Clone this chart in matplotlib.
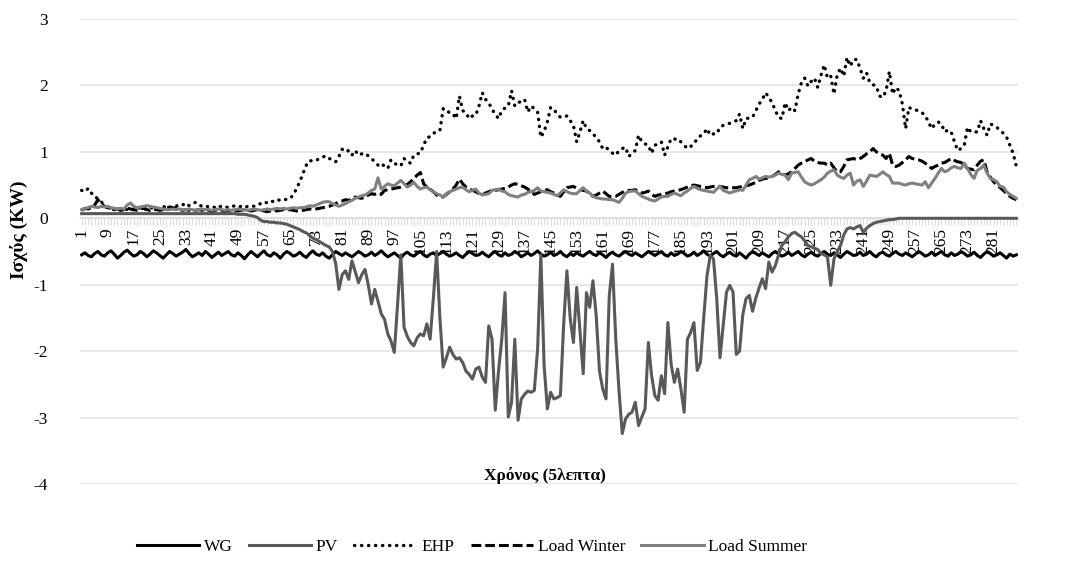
import matplotlib
matplotlib.use("Agg")
import matplotlib.pyplot as plt

plt.rcParams['font.family'] = ['Liberation Serif', 'DejaVu Serif']
plt.rcParams['axes.unicode_minus'] = False

# 5-minute steps over one day
steps = list(range(1, 289))
tick_steps = list(range(1, 289, 8))

wg = [-0.55, -0.52, -0.56, -0.58, -0.53, -0.5, -0.55, -0.57, -0.52, -0.49, -0.54, -0.6, -0.56, -0.51, -0.48, -0.53,
      -0.57, -0.55, -0.5, -0.53, -0.58, -0.54, -0.49, -0.52, -0.56, -0.6, -0.55, -0.5, -0.53, -0.57, -0.54, -0.51,
      -0.47, -0.53, -0.58, -0.55, -0.52, -0.56, -0.5, -0.54, -0.59, -0.55, -0.51, -0.56, -0.53, -0.5, -0.55, -0.57,
      -0.52, -0.56, -0.61, -0.55, -0.5, -0.54, -0.58, -0.53, -0.49, -0.55, -0.57, -0.52, -0.55, -0.6, -0.54, -0.5,
      -0.53, -0.57, -0.55, -0.51, -0.56, -0.59, -0.53, -0.49, -0.54, -0.56, -0.52, -0.57, -0.6, -0.55, -0.5, -0.53,
      -0.56, -0.52, -0.55, -0.58, -0.54, -0.5, -0.53, -0.57, -0.55, -0.51, -0.56, -0.53, -0.49, -0.54, -0.58, -0.55,
      -0.52, -0.56, -0.6, -0.54, -0.51, -0.55, -0.57, -0.53, -0.5, -0.55, -0.58, -0.54, -0.52, -0.56, -0.53, -0.5,
      -0.54, -0.57, -0.55, -0.52, -0.56, -0.59, -0.54, -0.5, -0.53, -0.56, -0.55, -0.51, -0.55, -0.58, -0.53, -0.5,
      -0.55, -0.57, -0.52, -0.56, -0.54, -0.5, -0.53, -0.58, -0.55, -0.52, -0.56, -0.53, -0.49, -0.54, -0.57, -0.55,
      -0.51, -0.56, -0.54, -0.5, -0.55, -0.58, -0.53, -0.56, -0.52, -0.55, -0.57, -0.53, -0.5, -0.54, -0.56, -0.52,
      -0.55, -0.59, -0.54, -0.51, -0.55, -0.57, -0.53, -0.5, -0.54, -0.56, -0.52, -0.55, -0.58, -0.54, -0.5, -0.53,
      -0.56, -0.53, -0.5, -0.55, -0.57, -0.52, -0.56, -0.54, -0.5, -0.53, -0.57, -0.55, -0.51, -0.56, -0.53, -0.49,
      -0.54, -0.57, -0.53, -0.5, -0.55, -0.58, -0.54, -0.51, -0.55, -0.57, -0.52, -0.56, -0.6, -0.54, -0.5, -0.53,
      -0.56, -0.52, -0.55, -0.58, -0.53, -0.5, -0.54, -0.57, -0.55, -0.51, -0.56, -0.53, -0.5, -0.55, -0.58, -0.54,
      -0.51, -0.55, -0.57, -0.53, -0.5, -0.54, -0.56, -0.52, -0.55, -0.59, -0.54, -0.5, -0.53, -0.56, -0.55, -0.51,
      -0.56, -0.54, -0.5, -0.55, -0.58, -0.53, -0.51, -0.55, -0.57, -0.53, -0.5, -0.54, -0.56, -0.52, -0.55, -0.58,
      -0.54, -0.5, -0.53, -0.57, -0.55, -0.51, -0.56, -0.53, -0.5, -0.55, -0.57, -0.52, -0.56, -0.54, -0.5, -0.53,
      -0.57, -0.55, -0.51, -0.56, -0.59, -0.54, -0.5, -0.53, -0.57, -0.55, -0.52, -0.56, -0.6, -0.54, -0.57, -0.55]

pv = [0.07, 0.07, 0.07, 0.07, 0.07, 0.07, 0.07, 0.07, 0.07, 0.07, 0.07, 0.07, 0.07, 0.07, 0.07, 0.07,
      0.07, 0.07, 0.07, 0.07, 0.07, 0.07, 0.07, 0.07, 0.07, 0.07, 0.07, 0.07, 0.07, 0.07, 0.07, 0.07,
      0.07, 0.07, 0.07, 0.07, 0.07, 0.07, 0.07, 0.07, 0.07, 0.07, 0.07, 0.07, 0.07, 0.07, 0.07, 0.07,
      0.06, 0.06, 0.06, 0.05, 0.04, 0.03, 0.01, -0.03, -0.05, -0.05, -0.06, -0.06, -0.07, -0.07, -0.08, -0.09,
      -0.11, -0.13, -0.15, -0.17, -0.2, -0.22, -0.26, -0.3, -0.32, -0.35, -0.38, -0.41, -0.43, -0.5, -0.68, -1.07,
      -0.85, -0.79, -0.92, -0.64, -0.8, -0.97, -0.85, -0.77, -1.0, -1.29, -1.07, -1.25, -1.44, -1.52, -1.74, -1.85,
      -2.02, -1.3, -0.55, -1.64, -1.78, -1.87, -1.92, -1.8, -1.74, -1.77, -1.59, -1.82, -1.2, -0.5, -1.5, -2.24,
      -2.1, -1.94, -2.05, -2.12, -2.1, -2.17, -2.3, -2.35, -2.42, -2.27, -2.24, -2.39, -2.47, -1.62, -1.82, -2.89,
      -2.3, -1.82, -1.12, -2.99, -2.77, -1.82, -3.04, -2.72, -2.65, -2.6, -2.62, -2.59, -1.97, -0.55, -2.22, -2.87,
      -2.62, -2.72, -2.7, -2.67, -1.6, -0.79, -1.5, -1.87, -1.04, -1.7, -2.34, -1.12, -1.34, -0.94, -1.47, -2.3,
      -2.57, -2.72, -1.17, -0.69, -1.82, -2.6, -3.24, -3.02, -2.95, -2.92, -2.77, -3.12, -2.99, -2.87, -1.87, -2.37,
      -2.67, -2.74, -2.37, -2.64, -1.57, -2.2, -2.47, -2.27, -2.57, -2.92, -1.82, -1.72, -1.57, -2.29, -2.17, -1.5,
      -0.87, -0.56, -0.61, -1.21, -2.1, -1.6, -1.11, -1.01, -1.11, -2.05, -2.0, -1.45, -1.21, -1.16, -1.4, -1.2,
      -1.05, -0.91, -1.06, -0.66, -0.81, -0.71, -0.55, -0.41, -0.35, -0.28, -0.23, -0.21, -0.25, -0.28, -0.34, -0.41,
      -0.43, -0.45, -0.47, -0.53, -0.55, -0.58, -1.01, -0.61, -0.5, -0.41, -0.25, -0.16, -0.14, -0.16, -0.13, -0.11,
      -0.21, -0.15, -0.11, -0.08, -0.06, -0.05, -0.04, -0.03, -0.02, -0.02, -0.01, 0.0, 0.0, 0.0, 0.0, 0.0,
      0.0, 0.0, 0.0, 0.0, 0.0, 0.0, 0.0, 0.0, 0.0, 0.0, 0.0, 0.0, 0.0, 0.0, 0.0, 0.0,
      0.0, 0.0, 0.0, 0.0, 0.0, 0.0, 0.0, 0.0, 0.0, 0.0, 0.0, 0.0, 0.0, 0.0, 0.0, 0.0]

ehp = [0.42, 0.40, 0.45, 0.38, 0.32, 0.30, 0.25, 0.20, 0.16, 0.14, 0.13, 0.15, 0.12, 0.14, 0.13, 0.15,
       0.12, 0.14, 0.16, 0.13, 0.15, 0.14, 0.17, 0.15, 0.14, 0.18, 0.16, 0.15, 0.19, 0.18, 0.21, 0.20,
       0.23, 0.19, 0.22, 0.24, 0.20, 0.18, 0.19, 0.17, 0.18, 0.16, 0.19, 0.17, 0.18, 0.16, 0.17, 0.19,
       0.17, 0.18, 0.16, 0.18, 0.19, 0.18, 0.21, 0.22, 0.25, 0.23, 0.26, 0.25, 0.28, 0.27, 0.29, 0.28,
       0.30, 0.35, 0.45, 0.55, 0.68, 0.80, 0.87, 0.86, 0.87, 0.90, 0.92, 0.94, 0.90, 0.88, 0.85, 0.93,
       1.04, 1.00, 1.02, 0.95, 1.02, 0.95, 0.97, 0.98, 0.94, 0.90, 0.85, 0.80, 0.83, 0.78, 0.75, 0.88,
       0.83, 0.80, 0.79, 0.90, 0.85, 0.83, 0.95, 0.97, 0.98, 1.10, 1.21, 1.23, 1.28, 1.30, 1.32, 1.65,
       1.64, 1.58, 1.57, 1.50, 1.84, 1.62, 1.59, 1.50, 1.54, 1.55, 1.69, 1.89, 1.79, 1.74, 1.64, 1.57,
       1.50, 1.62, 1.66, 1.69, 1.92, 1.69, 1.74, 1.76, 1.79, 1.60, 1.69, 1.65, 1.60, 1.22, 1.31, 1.45,
       1.67, 1.64, 1.57, 1.52, 1.53, 1.54, 1.47, 1.40, 1.15, 1.30, 1.47, 1.35, 1.32, 1.27, 1.22, 1.15,
       1.05, 1.07, 1.02, 0.98, 0.95, 1.02, 1.05, 1.07, 0.93, 0.98, 1.02, 1.25, 1.15, 1.12, 1.10, 0.98,
       1.10, 1.12, 1.15, 0.95, 1.08, 1.20, 1.19, 1.20, 1.15, 1.10, 1.05, 1.08, 1.12, 1.20, 1.24, 1.27,
       1.35, 1.25, 1.27, 1.27, 1.37, 1.40, 1.42, 1.43, 1.45, 1.47, 1.57, 1.35, 1.50, 1.51, 1.52, 1.62,
       1.72, 1.79, 1.89, 1.82, 1.74, 1.62, 1.52, 1.50, 1.74, 1.62, 1.67, 1.62, 1.87, 2.04, 2.11, 1.99,
       2.06, 2.11, 1.97, 2.15, 2.31, 2.11, 2.14, 1.87, 2.16, 2.26, 2.14, 2.42, 2.29, 2.39, 2.39, 2.26,
       2.11, 2.19, 2.04, 2.01, 1.99, 1.84, 1.82, 1.92, 2.21, 1.87, 1.97, 1.92, 1.72, 1.35, 1.67, 1.64,
       1.63, 1.62, 1.59, 1.55, 1.45, 1.35, 1.42, 1.45, 1.42, 1.30, 1.33, 1.30, 1.15, 1.02, 1.05, 1.10,
       1.37, 1.30, 1.30, 1.30, 1.47, 1.35, 1.25, 1.42, 1.40, 1.37, 1.32, 1.28, 1.22, 1.10, 0.98, 0.78]

load_winter = [0.12, 0.15, 0.14, 0.16, 0.20, 0.28, 0.22, 0.18, 0.16, 0.15, 0.13, 0.14, 0.12, 0.13, 0.15, 0.14,
               0.13, 0.12, 0.14, 0.15, 0.13, 0.12, 0.14, 0.13, 0.12, 0.13, 0.15, 0.17, 0.16, 0.15, 0.13, 0.12,
               0.13, 0.12, 0.11, 0.12, 0.13, 0.12, 0.13, 0.12, 0.11, 0.12, 0.13, 0.12, 0.11, 0.12, 0.11, 0.12,
               0.11, 0.12, 0.13, 0.12, 0.11, 0.12, 0.13, 0.12, 0.11, 0.10, 0.11, 0.12, 0.11, 0.12, 0.13, 0.12,
               0.13, 0.12, 0.11, 0.12, 0.12, 0.13, 0.14, 0.13, 0.14, 0.15, 0.16, 0.17, 0.18, 0.20, 0.22, 0.25,
               0.26, 0.28, 0.27, 0.29, 0.32, 0.31, 0.30, 0.33, 0.35, 0.37, 0.36, 0.38, 0.36, 0.42, 0.43, 0.44,
               0.45, 0.46, 0.47, 0.49, 0.51, 0.55, 0.60, 0.65, 0.69, 0.52, 0.47, 0.44, 0.40, 0.35, 0.33, 0.32,
               0.36, 0.40, 0.44, 0.50, 0.59, 0.52, 0.47, 0.44, 0.42, 0.40, 0.37, 0.35, 0.38, 0.40, 0.42, 0.42,
               0.43, 0.44, 0.45, 0.47, 0.50, 0.52, 0.51, 0.49, 0.47, 0.44, 0.40, 0.36, 0.38, 0.40, 0.42, 0.43,
               0.40, 0.38, 0.35, 0.33, 0.40, 0.46, 0.47, 0.48, 0.45, 0.43, 0.42, 0.41, 0.37, 0.33, 0.35, 0.38,
               0.41, 0.37, 0.33, 0.33, 0.33, 0.36, 0.39, 0.41, 0.42, 0.42, 0.43, 0.40, 0.38, 0.39, 0.41, 0.36,
               0.33, 0.35, 0.36, 0.37, 0.38, 0.40, 0.41, 0.42, 0.43, 0.45, 0.47, 0.49, 0.50, 0.49, 0.48, 0.47,
               0.46, 0.47, 0.48, 0.48, 0.48, 0.47, 0.46, 0.46, 0.46, 0.46, 0.47, 0.48, 0.49, 0.50, 0.52, 0.54,
               0.57, 0.59, 0.60, 0.61, 0.63, 0.66, 0.70, 0.67, 0.65, 0.67, 0.70, 0.75, 0.80, 0.83, 0.85, 0.88,
               0.90, 0.86, 0.84, 0.83, 0.83, 0.80, 0.83, 0.76, 0.70, 0.70, 0.78, 0.88, 0.89, 0.90, 0.88, 0.90,
               0.93, 0.97, 1.00, 1.05, 1.00, 0.97, 0.95, 0.90, 0.98, 0.80, 0.78, 0.80, 0.84, 0.88, 0.93, 0.90,
               0.89, 0.88, 0.86, 0.83, 0.79, 0.75, 0.78, 0.80, 0.83, 0.84, 0.87, 0.90, 0.87, 0.85, 0.84, 0.80,
               0.75, 0.74, 0.73, 0.80, 0.86, 0.88, 0.70, 0.62, 0.55, 0.50, 0.46, 0.42, 0.37, 0.33, 0.30, 0.28]

load_summer = [0.13, 0.15, 0.16, 0.18, 0.17, 0.16, 0.18, 0.17, 0.18, 0.16, 0.15, 0.14, 0.15, 0.14, 0.20, 0.23,
               0.18, 0.16, 0.17, 0.18, 0.19, 0.18, 0.17, 0.16, 0.15, 0.14, 0.13, 0.13, 0.14, 0.13, 0.14, 0.13,
               0.13, 0.14, 0.13, 0.12, 0.13, 0.14, 0.13, 0.13, 0.12, 0.13, 0.14, 0.13, 0.12, 0.13, 0.12, 0.13,
               0.14, 0.13, 0.13, 0.12, 0.13, 0.14, 0.13, 0.12, 0.13, 0.14, 0.13, 0.14, 0.15, 0.14, 0.15, 0.14,
               0.15, 0.16, 0.15, 0.16, 0.16, 0.17, 0.19, 0.18, 0.20, 0.22, 0.24, 0.25, 0.25, 0.22, 0.20, 0.18,
               0.20, 0.22, 0.25, 0.27, 0.30, 0.32, 0.34, 0.35, 0.38, 0.42, 0.44, 0.61, 0.44, 0.48, 0.52, 0.50,
               0.49, 0.53, 0.57, 0.52, 0.47, 0.50, 0.54, 0.48, 0.44, 0.46, 0.47, 0.43, 0.40, 0.37, 0.35, 0.32,
               0.37, 0.40, 0.42, 0.44, 0.46, 0.47, 0.43, 0.40, 0.42, 0.44, 0.38, 0.35, 0.36, 0.37, 0.42, 0.43,
               0.44, 0.41, 0.40, 0.36, 0.34, 0.33, 0.32, 0.35, 0.36, 0.39, 0.40, 0.42, 0.46, 0.41, 0.40, 0.39,
               0.38, 0.36, 0.34, 0.38, 0.43, 0.40, 0.38, 0.37, 0.37, 0.42, 0.46, 0.41, 0.38, 0.33, 0.31, 0.30,
               0.29, 0.29, 0.28, 0.28, 0.26, 0.24, 0.30, 0.38, 0.40, 0.41, 0.41, 0.37, 0.33, 0.31, 0.29, 0.27,
               0.26, 0.29, 0.32, 0.33, 0.33, 0.36, 0.38, 0.36, 0.34, 0.38, 0.41, 0.45, 0.48, 0.45, 0.43, 0.42,
               0.41, 0.40, 0.39, 0.44, 0.48, 0.42, 0.40, 0.38, 0.40, 0.41, 0.43, 0.42, 0.50, 0.58, 0.60, 0.63,
               0.59, 0.61, 0.63, 0.62, 0.63, 0.65, 0.68, 0.66, 0.65, 0.58, 0.68, 0.69, 0.70, 0.62, 0.55, 0.52,
               0.50, 0.52, 0.55, 0.58, 0.62, 0.68, 0.71, 0.73, 0.65, 0.62, 0.60, 0.65, 0.68, 0.50, 0.56, 0.58,
               0.48, 0.56, 0.65, 0.64, 0.63, 0.66, 0.70, 0.66, 0.63, 0.53, 0.53, 0.53, 0.51, 0.50, 0.52, 0.53,
               0.52, 0.51, 0.50, 0.55, 0.46, 0.53, 0.60, 0.68, 0.75, 0.70, 0.72, 0.76, 0.78, 0.76, 0.75, 0.83,
               0.75, 0.66, 0.60, 0.72, 0.75, 0.80, 0.68, 0.60, 0.58, 0.55, 0.48, 0.47, 0.40, 0.36, 0.33, 0.30]

W, H = 1069, 584
fig = plt.figure(figsize=(W / 100, H / 100), dpi=100)
ax = fig.add_axes([80 / W, 1 - 484 / H, (1018 - 80) / W, (484 - 19) / H])

lw = 2.2
ax.plot(steps, wg, color='black', lw=lw, label='WG', zorder=3)
ax.plot(steps, pv, color='#595959', lw=lw, label='PV', zorder=3)
ax.plot(steps, ehp, color='black', lw=2.4, ls=(0, (0.1, 2.0)), dash_capstyle='round', label='EHP', zorder=3)
ax.plot(steps, load_winter, color='black', lw=lw, ls=(0, (3.2, 1.3)), label='Load Winter', zorder=3)
ax.plot(steps, load_summer, color='#808080', lw=lw, label='Load Summer', zorder=3)

ax.set_xlim(0.5, 288.5)
ax.set_ylim(-4, 3)
ax.set_yticks(range(-4, 4))
ax.grid(axis='y', color='#dde1e6', lw=1.1)
ax.set_axisbelow(True)

for s in ['top', 'right', 'left']:
    ax.spines[s].set_visible(False)
ax.spines['bottom'].set_position(('data', 0))
ax.spines['bottom'].set_color('#d9dde3')
ax.spines['bottom'].set_linewidth(1.1)

ax.set_xticks(tick_steps)
ax.set_xticklabels([str(t) for t in tick_steps], rotation=90, fontsize=12.5)
ax.set_xticks(steps, minor=True)
ax.tick_params(axis='x', which='both', direction='out', length=5, color='#d9dde3', width=0.8, pad=2)
ax.tick_params(axis='y', length=0, labelsize=12.5, pad=23)

fig.text(19 / W, 1 - 230 / H, 'Ισχύς (KW)', rotation=90, ha='center', va='center',
         fontsize=14, fontweight='bold')
fig.text(545 / W, 1 - 475 / H, 'Χρόνος (5λεπτα)', ha='center', va='center',
         fontsize=12.5, fontweight='bold')

fig.legend(loc='center', bbox_to_anchor=(472 / W, 1 - 547 / H), ncol=5, frameon=False,
           fontsize=12.5, handlelength=3.6, columnspacing=0.95, handletextpad=0.25)

fig.savefig('out.png', dpi=100)
